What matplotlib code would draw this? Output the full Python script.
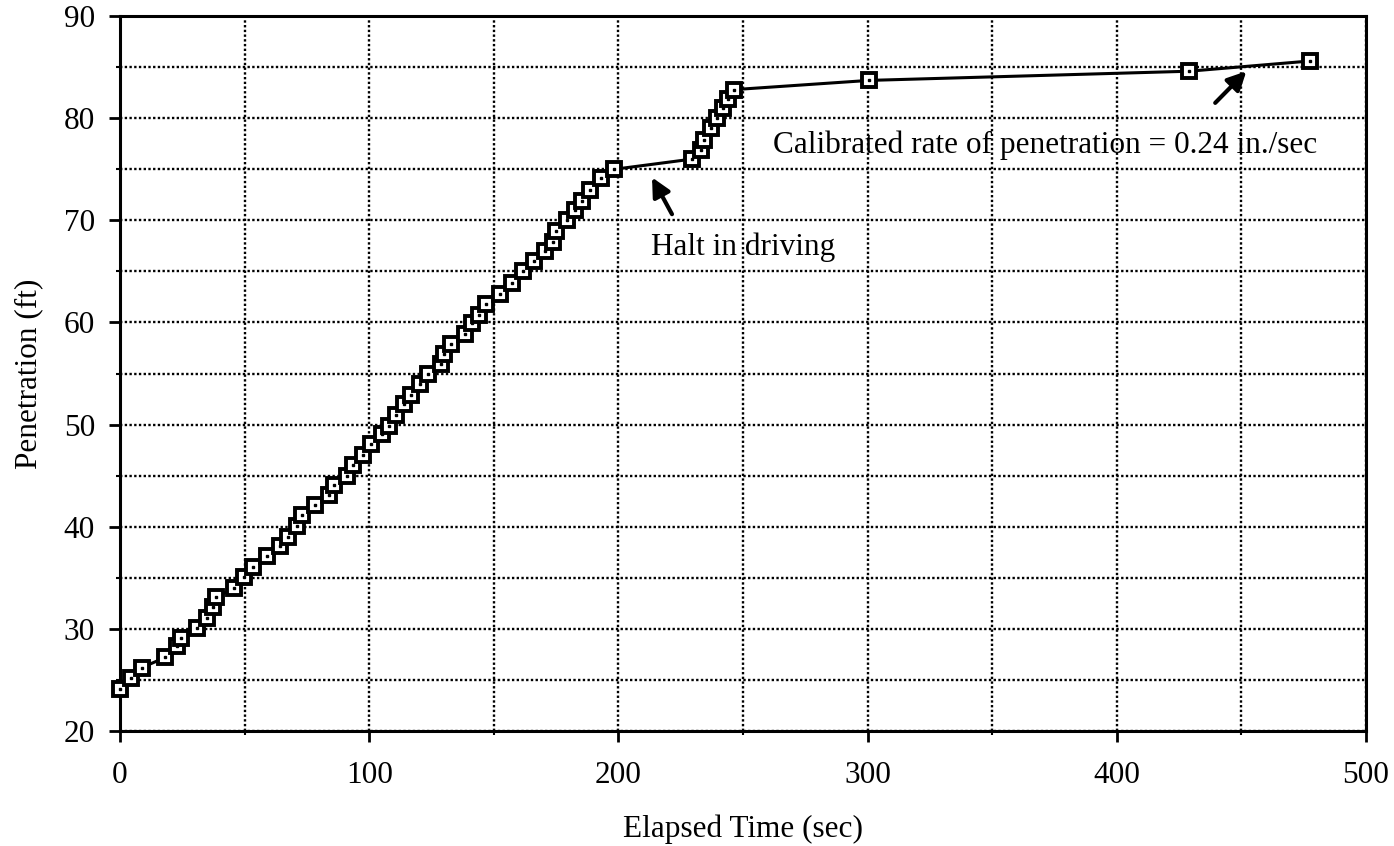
import numpy as np
import matplotlib
matplotlib.use("Agg")
from matplotlib import pyplot as plt
from matplotlib.ticker import MultipleLocator

# elapsed time (sec) and penetration (ft)
time_sec = [0, 4.4, 8.7, 18.2, 23, 24.5, 31, 35, 37.5, 38.5, 45.9, 49.9, 53.4,
            59, 64, 67.5, 71, 73, 78.3, 83.7, 85.7, 91, 93.5, 97.7, 100.8,
            105, 108, 110.9, 114, 116.8, 120.3, 123.5, 128.7, 130, 133,
            138.6, 141.3, 144, 146.8, 152.3, 157.5, 161.8, 166, 170.5,
            173.6, 175, 179.3, 182.6, 185.3, 188.7, 193.2, 198.4,
            229.7, 233.3, 234.5, 237.3, 239.6, 241.8, 243.8, 246.5,
            300.5, 429, 477.5]
penetration_ft = [24.1, 25.2, 26.2, 27.2, 28.3, 29.1, 30.1, 31.1, 32.1, 33.1,
                  34.0, 35.1, 36.1, 37.1, 38.1, 39.0, 40.1, 41.1, 42.1, 43.1,
                  44.1, 45.0, 46.0, 47.0, 48.1, 49.1, 49.9, 50.9, 52.0, 52.9,
                  54.0, 55.0, 55.9, 56.9, 57.9, 58.9, 59.9, 60.7, 61.8, 62.8,
                  63.9, 65.0, 66.0, 67.0, 67.9, 69.0, 70.0, 71.0, 71.9, 73.0,
                  74.1, 75.0, 76.0, 76.9, 77.9, 79.0, 80.0, 81.0, 81.9, 82.8,
                  83.7, 84.6, 85.6]

xticks = [0, 100, 200, 300, 400, 500]
yticks = [20, 30, 40, 50, 60, 70, 80, 90]

plt.rcParams['font.family'] = ['Liberation Serif', 'DejaVu Serif']
plt.rcParams['font.size'] = 22.5

fig = plt.figure(figsize=(13.94, 8.46), dpi=100)
ax = fig.add_axes([0.0861, 0.136, 0.8938, 0.845])

ax.plot(time_sec, penetration_ft, color='black', lw=2.2, marker='s', ms=10,
        mfc='white', mec='black', mew=2.8, zorder=3, clip_on=False)
ax.plot(time_sec, penetration_ft, ls='none', marker='s', ms=2,
        color='black', zorder=4, clip_on=False)

ax.set_xlim(0, 500)
ax.set_ylim(20, 90)
ax.set_xticks(xticks)
ax.set_yticks(yticks)
ax.xaxis.set_minor_locator(MultipleLocator(50))
ax.yaxis.set_minor_locator(MultipleLocator(5))

ax.grid(True, which='both', color='black', ls=(0, (1, 1)), lw=1.7)
ax.set_axisbelow(True)
for s in ax.spines.values():
    s.set_linewidth(2.2)
ax.tick_params(which='major', direction='out', length=8, width=2)
ax.tick_params(axis='x', which='major', pad=14)
ax.tick_params(axis='y', which='major', pad=10)
ax.tick_params(which='minor', direction='out', length=3, width=1.5)

ax.set_xlabel('Elapsed Time (sec)', labelpad=17)
ax.set_ylabel('Penetration (ft)', labelpad=15)

# annotations
ax.annotate('', xy=(213.5, 74.2), xytext=(221.5, 70.6),
            arrowprops=dict(arrowstyle='-|>', color='black', lw=3,
                            mutation_scale=28, shrinkA=0, shrinkB=0))
ax.text(213, 67.4, 'Halt in driving', ha='left', va='center')

ax.annotate('', xy=(452, 84.6), xytext=(439.5, 81.5),
            arrowprops=dict(arrowstyle='-|>', color='black', lw=3,
                            mutation_scale=28, shrinkA=0, shrinkB=0))
ax.text(262, 77.4, 'Calibrated rate of penetration = 0.24 in./sec',
        ha='left', va='center')

fig.savefig('out.png', dpi=100)
